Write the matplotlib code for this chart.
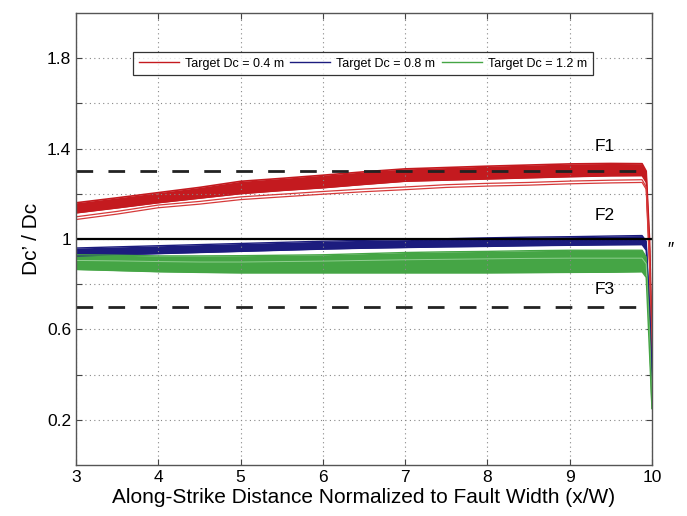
import matplotlib
matplotlib.use('Agg')
import matplotlib.pyplot as plt

plt.rcParams['font.family'] = ['Liberation Sans', 'DejaVu Sans']

# along-strike position (x/W)
x = [3.0, 3.5, 4.0, 4.5, 5.0, 5.5, 6.0, 6.5, 7.0, 7.5, 8.0, 8.5, 9.0, 9.5, 9.88, 9.93, 9.97, 10.0]

# Target Dc = 0.4 m (band edges + two thin outliers)
red_top = [1.160, 1.182, 1.205, 1.228, 1.255, 1.268, 1.282, 1.297, 1.310, 1.316, 1.322, 1.327, 1.332, 1.334, 1.333, 1.300, 1.000, 0.560]
red_bot = [1.115, 1.137, 1.160, 1.180, 1.200, 1.214, 1.226, 1.241, 1.255, 1.260, 1.265, 1.270, 1.275, 1.279, 1.280, 1.250, 0.950, 0.520]
red_thin1 = [1.098, 1.122, 1.150, 1.166, 1.186, 1.198, 1.210, 1.221, 1.230, 1.240, 1.246, 1.250, 1.256, 1.260, 1.262, 1.230, 0.900, 0.480]
red_thin2 = [1.086, 1.110, 1.138, 1.154, 1.174, 1.186, 1.198, 1.209, 1.218, 1.228, 1.234, 1.238, 1.244, 1.248, 1.250, 1.220, 0.880, 0.460]

# Target Dc = 0.8 m
blue_top = [0.960, 0.965, 0.970, 0.975, 0.980, 0.985, 0.990, 0.994, 0.997, 1.001, 1.005, 1.008, 1.010, 1.013, 1.015, 0.990, 0.700, 0.400]
blue_bot = [0.925, 0.930, 0.935, 0.940, 0.945, 0.950, 0.955, 0.959, 0.962, 0.965, 0.967, 0.970, 0.972, 0.974, 0.975, 0.950, 0.650, 0.380]

# Target Dc = 1.2 m
green_top = [0.930, 0.928, 0.925, 0.925, 0.926, 0.928, 0.930, 0.935, 0.940, 0.943, 0.945, 0.948, 0.950, 0.950, 0.950, 0.920, 0.600, 0.250]
green_mid = [0.905, 0.903, 0.900, 0.898, 0.898, 0.900, 0.902, 0.905, 0.908, 0.910, 0.912, 0.914, 0.915, 0.915, 0.915, 0.890, 0.560, 0.250]
green_bot = [0.865, 0.860, 0.855, 0.852, 0.850, 0.850, 0.850, 0.850, 0.850, 0.850, 0.850, 0.851, 0.852, 0.853, 0.855, 0.830, 0.500, 0.250]

red = '#c41a1f'
blue = '#1c1c7e'
green = '#45a545'

fig = plt.figure(figsize=(6.87, 5.16), dpi=100)
ax = fig.add_axes([0.1106, 0.0988, 0.8384, 0.8762])

ax.fill_between(x, red_bot, red_top, color=red, lw=0)
ax.plot(x, red_top, color=red, lw=1.2)
ax.plot(x, red_bot, color=red, lw=1.0)
ax.plot(x, red_thin1, color='#d63a3a', lw=0.9)
ax.plot(x, red_thin2, color='#d63a3a', lw=0.9)

ax.fill_between(x, blue_bot, blue_top, color=blue, lw=0)
ax.plot(x, blue_top, color=blue, lw=1.0)
ax.plot(x, blue_bot, color=blue, lw=1.0)

ax.fill_between(x, green_bot, green_top, color=green, lw=0)
ax.plot(x, green_top, color=green, lw=1.0)
ax.plot(x, green_mid, color='#8fcf8f', lw=0.7)
ax.plot(x, green_bot, color=green, lw=1.0)

# reference levels
ax.plot([3, 10], [1.0, 1.0], color='black', lw=1.6)
ax.plot([3, 9.88], [1.3, 1.3], color='#222222', lw=2, dashes=(6, 5.5))
ax.plot([3, 9.88], [0.7, 0.7], color='#222222', lw=2, dashes=(6, 5.5))

ax.text(9.43, 1.41, 'F1', fontsize=12.5, ha='center', va='center')
ax.text(9.43, 1.105, 'F2', fontsize=12.5, ha='center', va='center')
ax.text(9.43, 0.776, 'F3', fontsize=12.5, ha='center', va='center')
fig.text(0.975, 0.515, "\u2033", fontsize=13, style='italic', ha='center', va='center')

# legend handles
ax.plot([], [], color=red, lw=1, label='Target Dc = 0.4 m')
ax.plot([], [], color=blue, lw=1, label='Target Dc = 0.8 m')
ax.plot([], [], color=green, lw=1, label='Target Dc = 1.2 m')
handles, labels = ax.get_legend_handles_labels()
leg = ax.legend(handles[-3:], labels[-3:], loc='upper center', bbox_to_anchor=(0.498, 0.913),
                ncol=3, fontsize=9.0, frameon=True, fancybox=False, handlelength=3.2,
                columnspacing=0.5, handletextpad=0.5, borderpad=0.45, borderaxespad=0)
leg.get_frame().set_edgecolor('black')
leg.get_frame().set_linewidth(0.9)

ax.set_xlim(3, 10)
ax.set_ylim(0, 2)
ax.set_xticks([3, 4, 5, 6, 7, 8, 9, 10])
yt = [0.2, 0.4, 0.6, 0.8, 1.0, 1.2, 1.4, 1.6, 1.8]
ax.set_yticks(yt)
ax.set_yticklabels(['0.2', '', '0.6', '', '1', '', '1.4', '', '1.8'])
ax.tick_params(direction='in', top=True, right=True, labelsize=12.5, length=4, color='#444444')
ax.grid(True, ls=(0, (1, 3)), color='#888888', lw=0.8)
for s in ax.spines.values():
    s.set_color('#555555')
    s.set_linewidth(1.0)

ax.set_xlabel('Along-Strike Distance Normalized to Fault Width (x/W)', fontsize=15, labelpad=2)
ax.set_ylabel('Dc\u2019 / Dc', fontsize=15)

fig.savefig('out.png', dpi=100)
